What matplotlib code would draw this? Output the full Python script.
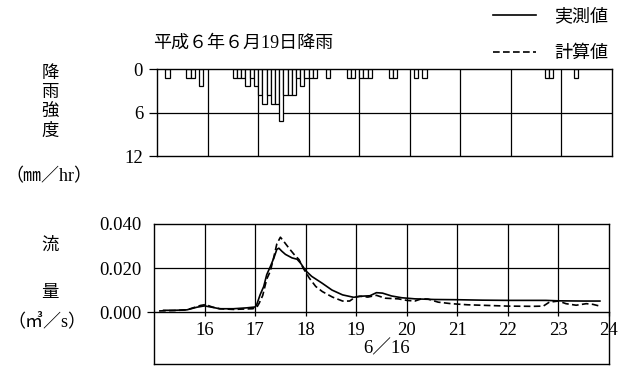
import matplotlib
matplotlib.use('Agg')
import matplotlib.pyplot as plt

plt.rcParams['font.family'] = ['Liberation Serif', 'Noto Sans CJK JP']

# 5-minute rainfall blocks on 6/16 (block start, intensity mm/hr)
rain_start = ['15:10', '15:35', '15:40', '15:50',
              '16:30', '16:35', '16:40', '16:45', '16:50', '16:55',
              '17:00', '17:05', '17:10', '17:15', '17:20', '17:25',
              '17:30', '17:35', '17:40', '17:45', '17:50', '17:55',
              '18:00', '18:05', '18:20', '18:45', '18:50',
              '19:00', '19:05', '19:10', '19:35', '19:40',
              '20:05', '20:15', '22:40', '22:45', '23:15']
rain_rate = [1.2, 1.2, 1.2, 2.4,
             1.2, 1.2, 1.2, 2.4, 1.2, 2.4,
             3.6, 4.8, 3.6, 4.8, 4.8, 7.2,
             3.6, 3.6, 3.6, 1.2, 2.4, 1.2,
             1.2, 1.2, 1.2, 1.2, 1.2,
             1.2, 1.2, 1.2, 1.2, 1.2,
             1.2, 1.2, 1.2, 1.2, 1.2]

# observed discharge (m3/s)
obs_time = [15.19, 15.40, 15.65, 15.85, 16.00, 16.12, 16.30, 16.57, 16.83,
            17.00, 17.03, 17.10, 17.17, 17.23, 17.30, 17.37, 17.43, 17.47,
            17.53, 17.60, 17.73, 17.83, 17.90, 18.00, 18.12, 18.20, 18.32,
            18.52, 18.73, 18.95, 19.10, 19.27, 19.40, 19.52, 19.70, 19.90,
            20.16, 20.55, 21.00, 21.50, 22.00, 22.50, 22.75, 23.00, 23.50,
            23.82]
obs_flow = [0.0008, 0.0008, 0.0010, 0.0022, 0.0028, 0.0023, 0.0015, 0.0015,
            0.0019, 0.0023, 0.0033, 0.0079, 0.0116, 0.0170, 0.0206, 0.0245,
            0.0285, 0.0290, 0.0276, 0.0262, 0.0246, 0.0240, 0.0222, 0.0188,
            0.0162, 0.0150, 0.0132, 0.0100, 0.0078, 0.0067, 0.0072, 0.0074,
            0.0088, 0.0086, 0.0073, 0.0065, 0.0060, 0.0057, 0.0056, 0.0054,
            0.0053, 0.0053, 0.0053, 0.0051, 0.0050, 0.0050]

# computed discharge (m3/s)
calc_time = [15.10, 15.40, 15.65, 15.92, 16.02, 16.15, 16.30, 16.57, 16.95,
             17.03, 17.08, 17.15, 17.23, 17.30, 17.37, 17.43, 17.50, 17.57,
             17.67, 17.77, 17.87, 17.95, 18.07, 18.20, 18.33, 18.53, 18.73,
             18.87, 18.98, 19.07, 19.23, 19.40, 19.57, 19.83, 20.00, 20.16,
             20.29, 20.42, 20.62, 20.88, 21.20, 21.60, 22.00, 22.50, 22.70,
             22.82, 23.00, 23.15, 23.35, 23.55, 23.68, 23.82]
calc_flow = [0.0005, 0.0007, 0.0010, 0.0030, 0.0034, 0.0023, 0.0015, 0.0012,
             0.0015, 0.0020, 0.0040, 0.0075, 0.0150, 0.0185, 0.0250, 0.0310,
             0.0340, 0.0320, 0.0290, 0.0262, 0.0238, 0.0200, 0.0155, 0.0116,
             0.0093, 0.0068, 0.0050, 0.0050, 0.0068, 0.0072, 0.0068, 0.0076,
             0.0063, 0.0060, 0.0053, 0.0050, 0.0060, 0.0059, 0.0045, 0.0038,
             0.0033, 0.0030, 0.0027, 0.0026, 0.0027, 0.0045, 0.0050, 0.0038,
             0.0031, 0.0038, 0.0035, 0.0027]

hour_ticks = [16, 17, 18, 19, 20, 21, 22, 23, 24]
rain_ticks = [0, 6, 12]
flow_ticks = [0.0, 0.02, 0.04]
flow_labels = ['0.000', '0.020', '0.040']


def to_hours(s):
    h, m = s.split(':')
    return int(h) + int(m) / 60


W, H = 623, 367
fig = plt.figure(figsize=(W / 100, H / 100), dpi=100)


def fx(x):
    return x / W


def fy(y):
    return 1 - y / H


LW = 0.9

# ---- rainfall hyetograph (hanging bars) ----
ax_r = fig.add_axes([fx(157), fy(156), 455 / W, 87 / H])
ax_r.set_xlim(15, 24)
ax_r.set_ylim(12, 0)
for h in hour_ticks[:-1]:
    ax_r.axvline(h, color='black', lw=LW, zorder=1)
ax_r.axhline(6, color='black', lw=LW, zorder=1)
ax_r.bar([to_hours(s) for s in rain_start], rain_rate, width=5 / 60,
         align='edge', color='white', edgecolor='black', linewidth=LW,
         zorder=3)
ax_r.set_xticks([])
ax_r.set_yticks(rain_ticks)
ax_r.set_yticklabels([str(v) for v in rain_ticks])
ax_r.tick_params(axis='y', length=6, width=LW, pad=4, labelsize=13.5)
for sp in ax_r.spines.values():
    sp.set_linewidth(1.0)
    sp.set_zorder(4)

# ---- discharge hydrograph ----
ax_q = fig.add_axes([fx(154), fy(364), 455 / W, 140 / H])
ax_q.set_xlim(15, 24)
ax_q.set_ylim(-0.0236, 0.040)
ax_q.vlines(hour_ticks[:-1], 0, 0.04, color='black', lw=LW, zorder=1)
ax_q.axhline(0.02, color='black', lw=LW, zorder=1)
obs_line, = ax_q.plot(obs_time, obs_flow, color='black', lw=1.2, zorder=3)
calc_line, = ax_q.plot(calc_time, calc_flow, color='black', lw=1.2,
                       ls=(0, (4, 2)), zorder=3)
ax_q.spines['bottom'].set_position(('data', 0))
ax_q.plot([0, 1], [0, 0], transform=ax_q.transAxes, color='black', lw=1.0,
          clip_on=False)
for sp in ax_q.spines.values():
    sp.set_linewidth(1.0)

ax_q.set_xticks(hour_ticks)
ax_q.set_xticklabels([str(h) for h in hour_ticks])
ax_q.tick_params(axis='x', direction='out', length=3, width=LW, pad=4,
                 labelsize=13.5)
ax_q.set_yticks(flow_ticks)
ax_q.set_yticklabels(flow_labels)
ax_q.tick_params(axis='y', length=5, width=LW, pad=4, labelsize=13.5)
for t in ax_q.yaxis.get_major_ticks()[1:]:
    t.tick1line.set_visible(False)
ax_q.text(19.6, -0.0168, '6／16', ha='center', va='center', fontsize=13.5)

# ---- labels ----
fig.text(fx(153), fy(43.5), '平成６年６月19日降雨', ha='left', va='center',
         fontsize=13)
fig.text(fx(50), fy(103), '降\n雨\n強\n度', ha='center', va='center',
         fontsize=12.5, linespacing=1.25)
fig.text(fx(49), fy(177), '（㎜／hr）', ha='center', va='center', fontsize=13)
fig.text(fx(50), fy(246), '流', ha='center', va='center', fontsize=12.5)
fig.text(fx(50), fy(293), '量', ha='center', va='center', fontsize=12.5)
fig.text(fx(47), fy(322), '（㎥／s）', ha='center', va='center', fontsize=13)

fig.legend([obs_line, calc_line], ['実測値', '計算値'], loc='upper right',
           bbox_to_anchor=(fx(608), fy(8)), frameon=False, fontsize=13,
           handlelength=2.4, handletextpad=1.0, labelspacing=1.1,
           borderpad=0, borderaxespad=0)

fig.savefig('out.png', dpi=100)
